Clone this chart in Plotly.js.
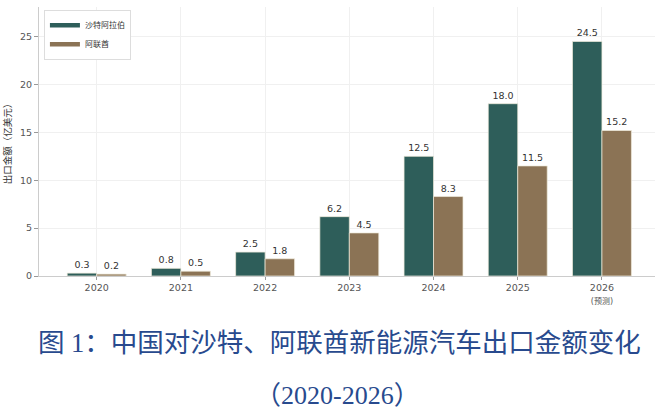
<!DOCTYPE html>
<html>
<head>
<meta charset="utf-8">
<script src="https://cdn.plot.ly/plotly-3.0.1.min.js"></script>
<style>
  html, body { margin: 0; padding: 0; background: #fff; }
  #chart { width: 655px; height: 415px; }
</style>
</head>
<body>
<div id="chart"></div>
<script>
// Export value (100 million USD) by year
const years = ['2020', '2021', '2022', '2023', '2024', '2025', '2026'];
const yearLabels = ['2020', '2021', '2022', '2023', '2024', '2025',
  "2026<br><span style='font-size:8px'>(预测)</span>"];
const saudi = [0.3, 0.8, 2.5, 6.2, 12.5, 18.0, 24.5];
const uae = [0.2, 0.5, 1.8, 4.5, 8.3, 11.5, 15.2];

const seriesNames = ['沙特阿拉伯', '阿联酋'];
const seriesColors = ['#2e5e5a', '#8b7355'];

const font = "'DejaVu Sans', 'Noto Sans CJK SC', sans-serif";
const captionFont = "'Liberation Serif', 'Noto Sans CJK SC', serif";

function barTrace(values, i) {
  return {
    type: 'bar',
    x: years,
    y: values,
    name: seriesNames[i],
    showlegend: false,
    marker: {
      color: seriesColors[i],
      line: { color: 'rgba(240,235,220,0.9)', width: 0.8 },
    },
    text: values.map((v) => v.toFixed(1)),
    textposition: 'outside',
    cliponaxis: false,
    textfont: { family: font, size: 9.5, color: '#333' },
    hoverinfo: 'x+y+name',
  };
}

// legend-only line swatches (matplotlib style patches)
function legendTrace(i) {
  return {
    type: 'scatter',
    mode: 'lines',
    x: [null],
    y: [null],
    name: seriesNames[i],
    line: { color: seriesColors[i], width: 4.5 },
    hoverinfo: 'skip',
  };
}

const data = [
  barTrace(saudi, 0),
  barTrace(uae, 1),
  legendTrace(0),
  legendTrace(1),
];

const layout = {
  width: 655,
  height: 415,
  margin: { l: 39, r: 0, t: 7, b: 139 },
  paper_bgcolor: '#fff',
  plot_bgcolor: '#fff',
  font: { family: font, size: 9.5, color: '#555' },
  barmode: 'group',
  bargap: 0.3,
  bargroupgap: 0,
  showlegend: true,
  legend: {
    x: 0.008,
    y: 0.99,
    xanchor: 'left',
    yanchor: 'top',
    bgcolor: '#fff',
    bordercolor: '#dddddd',
    borderwidth: 1,
    font: { family: font, size: 8, color: '#333' },
    itemwidth: 30,
    tracegroupgap: 0,
  },
  xaxis: {
    type: 'category',
    range: [-0.685, 6.63],
    tickvals: years,
    ticktext: yearLabels,
    showgrid: true,
    gridcolor: '#f0f0f0',
    gridwidth: 0.8,
    showline: true,
    linecolor: '#cccccc',
    linewidth: 1,
    ticks: 'outside',
    ticklen: 3,
    tickcolor: '#999',
    tickfont: { family: font, size: 9.5, color: '#555' },
    zeroline: false,
  },
  yaxis: {
    range: [0, 28.1],
    dtick: 5,
    showgrid: true,
    gridcolor: '#f0f0f0',
    gridwidth: 0.8,
    showline: true,
    linecolor: '#cccccc',
    linewidth: 1,
    ticks: 'outside',
    ticklen: 4,
    tickcolor: '#999',
    tickfont: { family: font, size: 9.5, color: '#555' },
    zeroline: false,
    title: {
      text: '出口金额（亿美元）',
      font: { family: "'Noto Sans CJK SC', sans-serif", size: 9.5, color: '#333' },
      standoff: 9,
    },
  },
  annotations: [
    {
      xref: 'paper', yref: 'paper',
      x: 0.488, y: -0.25,
      xanchor: 'center', yanchor: 'middle',
      showarrow: false,
      text: '图 1：中国对沙特、阿联酋新能源汽车出口金额变化',
      font: { family: captionFont, size: 26.5, color: '#284a8e' },
    },
    {
      xref: 'paper', yref: 'paper',
      x: 0.485, y: -0.444,
      xanchor: 'center', yanchor: 'middle',
      showarrow: false,
      text: '（2020-2026）',
      font: { family: captionFont, size: 26, color: '#284a8e' },
    },
  ],
};

Plotly.newPlot('chart', data, layout, { responsive: false, displayModeBar: false });
</script>
</body>
</html>
